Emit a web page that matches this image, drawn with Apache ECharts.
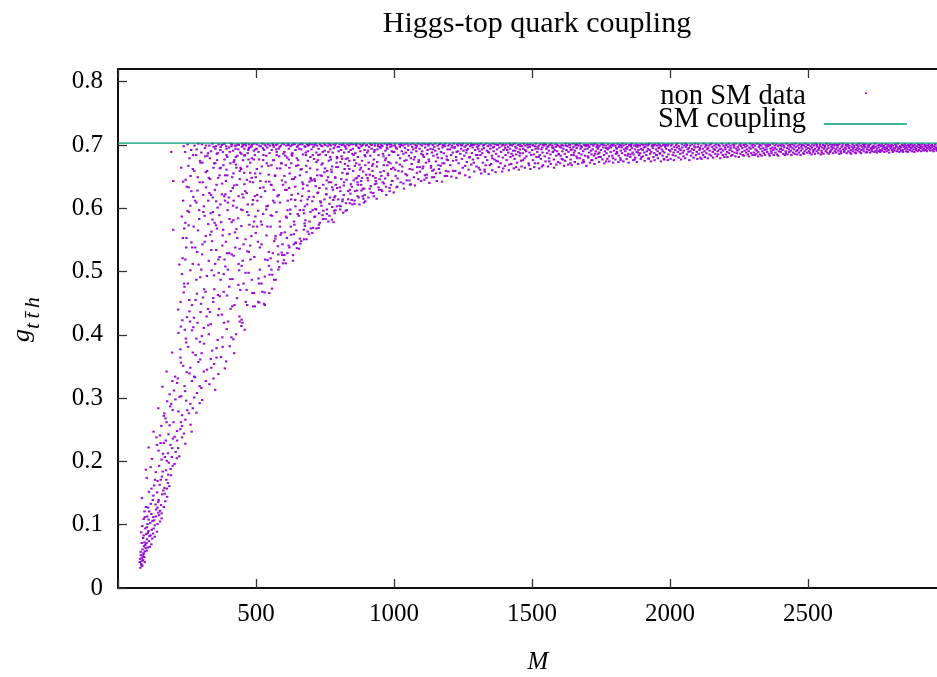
<!DOCTYPE html>
<html>
<head>
<meta charset="utf-8">
<title>Higgs-top quark coupling</title>
<script src="https://cdn.jsdelivr.net/npm/echarts@6/dist/echarts.min.js"></script>
<style>
  html, body { margin: 0; padding: 0; background: #fff; }
  #chart { width: 937px; height: 677px; }
</style>
</head>
<body>
<div id="chart"></div>
<script>
// Axis ranges and tick labels
const massRange = [0, 3000];
const massTicks = [500, 1000, 1500, 2000, 2500];
const couplingRange = [0, 0.82];
const couplingTicks = [0, 0.1, 0.2, 0.3, 0.4, 0.5, 0.6, 0.7, 0.8];

// Standard Model value of the Higgs-top coupling
const smCoupling = 0.703;

// Scan points outside the SM, stored as flat lists of (M, g_tth) pairs.
// Low-mass tail, g below about 0.42
const lowTailMG = [
  81,.032, 84,.038, 79,.041, 88,.035, 86,.047, 83,.052, 91,.044, 95,.049, 82,.057, 89,.061, 93,.055, 87,.043, 97,.058, 85,.036, 100,.063, 90,.050, 104,.059, 80,.046, 94,.066, 108,.064,
  86,.071, 99,.068, 112,.074, 91,.079, 118,.083, 105,.077, 84,.088, 127,.086, 96,.072, 133,.081, 110,.090, 121,.069, 102,.085, 141,.089, 93,.083, 115,.065, 124,.078, 108,.087,
  88,.098, 129,.094, 143,.101, 111,.108, 97,.112, 152,.105, 121,.117, 137,.113, 104,.096, 158,.110, 117,.103, 146,.119, 93,.109, 133,.099, 125,.106, 149,.115,
  87,.142, 138,.124, 156,.131, 147,.139, 166,.128, 128,.146, 171,.137, 119,.133, 160,.148, 152,.122, 178,.144, 143,.127,
  121,.157, 151,.163, 164,.154, 175,.171, 159,.176, 186,.161, 143,.169, 192,.178, 168,.158, 181,.166, 104,.174,
  101,.187, 149,.193, 162,.184, 177,.201, 191,.188, 205,.196, 170,.207, 184,.198, 213,.205, 158,.203,
  111,.222, 147,.217, 166,.229, 181,.213, 199,.236, 218,.221, 232,.238, 190,.226, 173,.233, 209,.215,
  129,.247, 157,.256, 183,.243, 201,.262, 226,.251, 244,.266, 263,.258, 214,.248, 172,.268, 239,.244,
  146,.284, 168,.276, 193,.291, 219,.279, 247,.296, 271,.284, 296,.292, 232,.273, 208,.298, 284,.277,
  161,.318, 187,.306, 214,.324, 243,.311, 268,.327, 302,.316, 331,.322, 229,.303, 286,.308, 352,.313,
  176,.342, 207,.334, 236,.351, 259,.339, 291,.357, 322,.345, 364,.338, 279,.333, 348,.354, 387,.347,
  196,.372, 226,.364, 254,.381, 281,.368, 312,.386, 341,.375, 373,.365, 405,.382, 298,.361, 421,.371,
  219,.403, 246,.394, 273,.412, 304,.398, 336,.417, 361,.392, 394,.409, 428,.401, 447,.414, 288,.419, 378,.396, 459,.408,
  97,.041, 92,.053, 103,.071, 114,.082, 99,.094, 107,.101, 131,.107, 122,.092, 113,.121, 136,.132, 126,.139, 109,.127, 142,.151, 131,.162, 155,.171, 137,.183, 118,.191, 174,.186, 163,.212, 141,.226,
  196,.221, 152,.241, 187,.257, 205,.239, 228,.262, 166,.272, 198,.281, 257,.276, 178,.295, 223,.302, 262,.291, 305,.297, 241,.319, 197,.327, 276,.334, 318,.327, 346,.331, 228,.356, 262,.348, 303,.371,
  336,.362, 392,.358, 247,.388, 284,.394, 329,.401, 357,.379, 418,.393, 268,.407, 311,.411, 384,.419, 441,.421, 233,.423,
  128,.112, 101,.128, 146,.136, 112,.152, 169,.149, 134,.171, 182,.179, 123,.204, 195,.207, 154,.229, 214,.233, 139,.238, 232,.256, 176,.262, 251,.281, 189,.287, 276,.301, 203,.312, 296,.319, 217,.331,
  311,.342, 249,.341, 338,.348, 226,.377, 357,.364, 271,.372, 379,.381, 297,.389, 411,.396, 242,.408, 327,.415, 451,.419, 106,.113, 96,.121, 158,.118, 177,.157, 198,.193, 222,.208, 244,.228, 267,.247
];

// M below 500, g above about 0.42
const lightMG = [
  193,.689, 200,.643, 200,.566, 222,.511, 218,.440, 228,.413,
  227,.452, 231,.587, 229,.664, 234,.521, 238,.698, 236,.612, 241,.476, 245,.645, 243,.689, 248,.553, 252,.701, 250,.428, 256,.633, 259,.679, 262,.502, 257,.594, 265,.692, 268,.447, 271,.662, 274,.571, 277,.699, 273,.618, 280,.538, 283,.684, 286,.465, 289,.649, 291,.702, 294,.597, 297,.675, 292,.511, 299,.436, 285,.693, 266,.627, 240,.568, 253,.481,
  302,.688, 306,.543, 304,.701, 309,.621, 312,.472, 315,.695, 318,.657, 314,.588, 321,.429, 324,.683, 327,.612, 331,.699, 329,.517, 334,.646, 337,.690, 339,.563, 342,.702, 345,.458, 348,.671, 351,.629, 353,.694, 356,.534, 358,.686, 361,.601, 364,.701, 366,.441, 369,.663, 372,.697, 374,.578, 377,.639,
  380,.689, 383,.496, 385,.702, 388,.652, 391,.547, 393,.694, 396,.681, 398,.609, 319,.699, 336,.592, 347,.697, 359,.676, 368,.523, 376,.700, 382,.668, 389,.622, 395,.462, 307,.641, 326,.687, 343,.617, 355,.698, 363,.648, 371,.692, 379,.557, 386,.677, 392,.698, 399,.421, 333,.679, 350,.577, 384,.702,
  402,.696, 404,.583, 407,.671, 409,.702, 412,.527, 414,.649, 417,.691, 419,.612, 422,.447, 424,.699, 427,.681, 429,.567, 431,.637, 434,.701, 436,.693, 439,.502, 441,.659, 443,.688, 446,.598, 448,.424, 451,.702, 453,.676, 455,.543, 458,.694, 461,.627, 463,.699, 466,.471, 468,.666, 470,.687, 473,.589, 475,.701, 478,.642, 480,.519, 483,.697, 485,.679, 487,.606, 490,.445, 492,.691,
  494,.702, 497,.655, 499,.561, 405,.689, 411,.698, 416,.632, 421,.676, 426,.694, 432,.553, 438,.700, 444,.664, 449,.697, 454,.617, 459,.684, 464,.702, 469,.532, 474,.695, 479,.672, 484,.699, 489,.641, 493,.579, 498,.693, 403,.476, 418,.655, 428,.699, 437,.619, 447,.686, 457,.701, 467,.645, 476,.696, 486,.701, 496,.684, 413,.701, 433,.683, 452,.699, 472,.692
];

// 230 <= M < 1200, body of the band below g = 0.69
const bandBodyMG = [
  247,.538, 262,.604, 239,.481, 281,.455, 255,.667, 294,.583, 271,.512, 236,.642, 288,.628, 259,.437, 276,.659, 244,.577, 298,.491, 266,.546, 284,.609,
  317,.468, 356,.611, 338,.534, 372,.487, 309,.594, 391,.643, 345,.452, 323,.659, 381,.566, 364,.519, 302,.503, 397,.597, 331,.624, 352,.671, 376,.432, 314,.547, 389,.508, 342,.582, 368,.652, 326,.441,
  359,.568, 395,.529, 306,.672, 348,.494, 385,.619, 334,.558, 371,.606, 319,.633, 362,.463, 393,.661,
  437,.512, 412,.578, 468,.447, 489,.613, 421,.636, 455,.481, 403,.529, 476,.574, 446,.662, 431,.458, 494,.523, 417,.604, 462,.551, 484,.648, 408,.441, 451,.597, 473,.498, 427,.669, 498,.587, 441,.536,
  415,.488, 466,.624, 487,.466, 435,.584, 457,.656, 479,.541, 402,.617, 448,.509, 492,.677, 424,.562, 470,.606, 443,.471, 496,.445, 458,.638, 419,.525,
  523,.468, 547,.531, 508,.596, 571,.487, 589,.558, 536,.642, 514,.503, 562,.612, 595,.526, 541,.571, 503,.662, 577,.663, 529,.449, 553,.589, 584,.507, 518,.618, 566,.548, 598,.637, 533,.519, 558,.473,
  507,.547, 574,.594, 545,.667, 592,.671, 521,.574, 561,.529, 511,.481, 582,.621, 538,.603, 569,.652, 527,.633, 596,.543, 549,.495, 515,.655, 586,.579, 556,.637, 532,.492, 579,.516, 504,.621, 564,.676,
  618,.541, 643,.603, 677,.572, 606,.629, 659,.552, 692,.618, 634,.517, 621,.664, 668,.641, 687,.563, 611,.585, 648,.679, 697,.594, 627,.558, 663,.612, 683,.657, 603,.526, 639,.574, 672,.597, 656,.536,
  615,.612, 694,.642, 631,.646, 679,.581, 646,.565, 608,.668, 688,.675, 624,.598, 653,.623, 699,.568, 637,.543, 665,.662, 612,.553, 685,.606, 642,.649, 674,.551, 629,.621, 696,.663, 651,.591, 619,.677,
  712,.586, 748,.614, 731,.577, 764,.641, 793,.603, 722,.652, 757,.598, 779,.629, 704,.561, 741,.671, 785,.592, 768,.617, 716,.635, 752,.583, 797,.665, 735,.609, 773,.661, 727,.569, 761,.649, 709,.618,
  789,.637, 744,.596, 781,.578, 719,.673, 755,.631, 738,.651, 776,.602, 702,.644, 766,.588, 794,.679, 729,.592, 750,.663, 787,.619, 715,.599, 771,.677,
  813,.611, 847,.634, 829,.597, 866,.648, 894,.621, 821,.662, 857,.607, 881,.643, 806,.627, 838,.675, 872,.617, 899,.653, 816,.593, 852,.659, 887,.631, 834,.614, 863,.671, 891,.609, 809,.646, 842,.623,
  877,.661, 826,.678, 859,.627, 896,.668, 818,.636, 849,.606, 884,.648, 832,.655, 869,.637, 803,.604,
  912,.631, 948,.646, 927,.619, 963,.659, 989,.637, 921,.667, 954,.629, 978,.652, 906,.644, 939,.673, 971,.634, 997,.664, 916,.625, 951,.657, 984,.627, 933,.648, 968,.676, 994,.643, 909,.662, 944,.633,
  976,.668, 924,.651, 959,.641, 987,.671, 931,.638,
  1013,.647, 1067,.661, 1034,.639, 1089,.673, 1152,.655, 1021,.669, 1118,.648, 1176,.671, 1047,.652, 1098,.643, 1163,.662, 1009,.633, 1072,.677, 1139,.659, 1184,.651, 1029,.658, 1106,.666, 1191,.677, 1056,.644, 1127,.674,
  1083,.656, 1145,.649, 1038,.675, 1112,.652, 1169,.667, 1004,.661, 1061,.638, 1134,.664, 1197,.658, 1093,.665,
  238,.467, 244,.519, 252,.596, 258,.455, 263,.651, 269,.538, 275,.427, 279,.612, 284,.487, 290,.565, 296,.641, 301,.449, 305,.527, 311,.603, 316,.682, 322,.493, 327,.575, 333,.436, 337,.621, 341,.548,
  346,.664, 349,.472, 235,.553, 249,.634, 261,.421, 272,.684, 287,.531, 299,.672, 308,.459, 318,.556, 329,.648, 339,.502, 344,.594, 232,.496, 256,.573,
  352,.512, 357,.637, 363,.431, 367,.589, 372,.664, 378,.541, 383,.468, 388,.612, 393,.684, 398,.503, 404,.559, 409,.627, 414,.445, 419,.673, 425,.538, 430,.601, 436,.479, 441,.646, 447,.572, 452,.517,
  458,.683, 463,.452, 468,.594, 474,.531, 479,.656, 485,.487, 490,.571, 496,.619, 355,.573, 361,.687, 369,.461, 376,.622, 386,.519, 396,.652, 407,.488, 418,.581, 429,.664, 440,.429, 451,.622, 462,.498,
  473,.677, 483,.556, 493,.466, 499,.649, 365,.498,
  504,.571, 509,.489, 515,.632, 520,.543, 526,.676, 531,.467, 537,.598, 542,.518, 548,.642, 553,.571, 559,.495, 564,.629, 570,.552, 575,.684, 581,.527, 587,.609, 592,.561, 598,.513, 603,.651, 609,.587,
  614,.529, 620,.632, 626,.571, 631,.683, 637,.559, 642,.613, 648,.537, 653,.668, 659,.597, 664,.548, 670,.631, 676,.576, 681,.684, 687,.614, 692,.559, 698,.648, 512,.451, 556,.503, 601,.518, 644,.546,
  705,.597, 712,.646, 719,.568, 726,.684, 733,.611, 741,.589, 748,.657, 755,.622, 762,.579, 769,.681, 776,.633, 783,.596, 791,.665, 798,.614, 805,.598, 812,.678, 819,.641, 826,.608, 833,.667, 840,.629,
  847,.613, 854,.684, 861,.647, 868,.619, 875,.669, 882,.628, 889,.615, 896,.682, 723,.624, 787,.648
];

// 500 <= M < 1000
const midMG = [
  502,.694, 505,.612, 503,.701, 508,.452, 511,.677, 509,.689, 514,.538, 517,.698, 516,.643, 520,.481, 523,.702, 521,.666, 526,.591, 529,.692, 527,.684, 532,.447, 535,.699, 533,.627, 538,.557, 541,.696, 539,.671, 544,.701, 547,.509, 546,.653, 549,.687, 512,.699, 518,.579, 525,.695, 531,.701, 537,.683, 543,.604, 548,.466,
  551,.699, 554,.637, 553,.521, 557,.692, 560,.702, 558,.588, 563,.676, 566,.487, 564,.697, 569,.651, 572,.700, 571,.556, 575,.689, 578,.619, 577,.701, 581,.503, 584,.682, 582,.694, 587,.571, 590,.699, 588,.663, 593,.530, 596,.702, 594,.644, 599,.686, 556,.668, 562,.700, 567,.609, 573,.693, 579,.540, 586,.697, 592,.671,
  601,.701, 604,.562, 603,.689, 607,.641, 610,.699, 608,.513, 613,.680, 616,.702, 614,.597, 619,.694, 622,.655, 621,.538, 625,.698, 628,.671, 627,.614, 631,.700, 634,.526, 632,.687, 637,.646, 640,.701, 638,.579, 643,.692, 646,.667, 644,.545, 649,.697, 606,.683, 611,.629, 618,.700, 624,.591, 629,.685, 636,.702, 642,.634,
  652,.699, 655,.588, 653,.676, 658,.701, 661,.544, 659,.652, 664,.693, 667,.619, 665,.702, 670,.685, 673,.566, 671,.638, 676,.698, 679,.697, 677,.603, 682,.667, 685,.701, 683,.551, 688,.690, 691,.627, 689,.699, 694,.579, 697,.681, 695,.702, 699,.646, 656,.694, 662,.661, 668,.701, 674,.592, 680,.688, 686,.636, 692,.700,
  701,.693, 704,.611, 703,.701, 707,.569, 710,.678, 708,.697, 713,.643, 716,.702, 714,.587, 719,.688, 722,.661, 721,.699, 725,.625, 728,.574, 727,.694, 731,.701, 734,.652, 732,.685, 737,.604, 740,.698, 738,.669, 743,.583, 746,.702, 744,.637, 749,.691, 706,.684, 712,.700, 718,.598, 724,.676, 730,.632, 736,.699, 742,.689,
  751,.700, 754,.622, 753,.684, 757,.591, 760,.698, 758,.659, 763,.702, 766,.607, 764,.675, 769,.693, 772,.641, 771,.699, 775,.582, 778,.688, 776,.666, 781,.701, 784,.617, 782,.695, 787,.649, 790,.702, 788,.597, 793,.681, 796,.697, 794,.632, 799,.690, 756,.644, 762,.689, 768,.701, 774,.657, 780,.613, 786,.699, 792,.672,
  801,.697, 804,.633, 803,.701, 807,.603, 810,.682, 808,.692, 813,.656, 816,.702, 814,.614, 819,.688, 822,.670, 821,.699, 825,.596, 828,.645, 827,.694, 831,.701, 834,.627, 832,.679, 837,.699, 840,.608, 838,.662, 843,.692, 846,.701, 844,.638, 849,.686, 806,.673, 812,.700, 818,.621, 824,.697, 830,.654, 836,.689, 842,.702,
  851,.694, 854,.644, 853,.701, 857,.612, 860,.687, 858,.667, 863,.699, 866,.628, 864,.702, 869,.681, 872,.651, 871,.696, 875,.606, 878,.690, 876,.701, 881,.637, 884,.675, 882,.698, 887,.619, 890,.702, 888,.658, 893,.692, 896,.611, 894,.684, 899,.699, 856,.676, 862,.701, 868,.641, 874,.695, 880,.664, 886,.700, 892,.631,
  901,.700, 904,.648, 903,.688, 907,.617, 910,.697, 908,.672, 913,.702, 916,.635, 914,.683, 919,.694, 922,.659, 921,.701, 925,.624, 928,.689, 927,.677, 931,.699, 934,.643, 932,.702, 937,.615, 940,.693, 938,.666, 943,.701, 946,.629, 944,.684, 949,.697, 906,.691, 912,.653, 918,.700, 924,.670, 930,.692, 936,.639, 942,.698,
  951,.695, 954,.651, 953,.701, 957,.627, 960,.686, 958,.698, 963,.668, 966,.702, 964,.639, 969,.691, 972,.621, 971,.679, 975,.700, 978,.655, 976,.694, 981,.702, 984,.632, 982,.684, 987,.697, 990,.662, 988,.701, 993,.643, 996,.689, 994,.699, 999,.625, 956,.699, 962,.682, 968,.647, 974,.696, 980,.673, 986,.701, 992,.690
];

// 1000 <= M < 2000
const heavyMG = [
  1001,.689, 1003,.699, 1006,.651, 1004,.702, 1009,.672, 1012,.634, 1010,.694, 1015,.684, 1018,.701, 1016,.659, 1021,.697, 1024,.641, 1022,.679, 1027,.702, 1030,.666, 1028,.690, 1033,.699, 1036,.631, 1034,.686, 1039,.701, 1042,.654, 1040,.695, 1045,.676, 1048,.702, 1046,.644, 1051,.692, 1054,.683, 1052,.699, 1057,.662, 1060,.701, 1058,.637, 1063,.688, 1066,.697, 1064,.670, 1069,.702, 1072,.649, 1070,.693, 1075,.681, 1078,.700, 1076,.636, 1081,.690, 1084,.665, 1082,.698, 1087,.702, 1090,.676, 1088,.646, 1093,.694, 1096,.701, 1094,.658, 1099,.686, 1007,.696, 1025,.700, 1043,.688, 1061,.679, 1079,.695,
  1101,.699, 1104,.663, 1102,.690, 1107,.702, 1110,.645, 1108,.681, 1113,.696, 1116,.672, 1114,.701, 1119,.653, 1122,.692, 1120,.686, 1125,.699, 1128,.640, 1126,.677, 1131,.702, 1134,.667, 1132,.694, 1137,.688, 1140,.700, 1138,.649, 1143,.683, 1146,.697, 1144,.661, 1149,.702, 1152,.674, 1150,.691, 1155,.643, 1158,.699, 1156,.685, 1161,.668, 1164,.701, 1162,.694, 1167,.656, 1170,.689, 1168,.702, 1173,.679, 1176,.696, 1174,.642, 1179,.700, 1182,.671, 1180,.687, 1185,.698, 1188,.659, 1186,.702, 1191,.682, 1194,.693, 1192,.651, 1197,.699, 1105,.684, 1123,.701, 1141,.693, 1159,.680, 1177,.699, 1195,.676,
  1201,.701, 1204,.668, 1202,.693, 1207,.684, 1210,.699, 1208,.650, 1213,.688, 1216,.702, 1214,.675, 1219,.695, 1222,.659, 1220,.697, 1225,.681, 1228,.701, 1226,.648, 1231,.690, 1234,.671, 1232,.699, 1237,.702, 1240,.686, 1238,.656, 1243,.694, 1246,.678, 1244,.700, 1249,.664, 1252,.691, 1250,.702, 1255,.683, 1258,.652, 1256,.697, 1261,.699, 1264,.673, 1262,.688, 1267,.701, 1270,.661, 1268,.694, 1273,.680, 1276,.698, 1274,.649, 1279,.702, 1282,.687, 1280,.669, 1285,.696, 1288,.700, 1286,.677, 1291,.658, 1294,.692, 1292,.701, 1297,.684, 1209,.696, 1227,.689, 1245,.699, 1263,.692, 1281,.700, 1299,.666,
  1301,.697, 1304,.679, 1302,.701, 1307,.664, 1310,.690, 1308,.699, 1313,.684, 1316,.655, 1314,.702, 1319,.693, 1322,.672, 1320,.687, 1325,.700, 1328,.661, 1326,.695, 1331,.681, 1334,.702, 1332,.668, 1337,.691, 1340,.698, 1338,.676, 1343,.654, 1346,.701, 1344,.688, 1349,.694, 1352,.670, 1350,.699, 1355,.683, 1358,.702, 1356,.660, 1361,.690, 1364,.677, 1362,.697, 1367,.701, 1370,.686, 1368,.657, 1373,.693, 1376,.674, 1374,.700, 1379,.682, 1382,.696, 1380,.665, 1385,.702, 1388,.689, 1386,.671, 1391,.699, 1394,.680, 1392,.658, 1397,.692, 1305,.694, 1323,.699, 1341,.689, 1359,.696, 1377,.700, 1395,.701,
  1401,.699, 1404,.684, 1402,.667, 1407,.701, 1410,.692, 1408,.676, 1413,.697, 1416,.660, 1414,.688, 1419,.702, 1422,.681, 1420,.694, 1425,.670, 1428,.699, 1426,.686, 1431,.701, 1434,.663, 1432,.691, 1437,.678, 1440,.697, 1438,.702, 1443,.685, 1446,.672, 1444,.695, 1449,.700, 1452,.661, 1450,.689, 1455,.683, 1458,.701, 1456,.693, 1461,.675, 1464,.698, 1462,.666, 1467,.687, 1470,.702, 1468,.694, 1473,.679, 1476,.699, 1474,.664, 1479,.690, 1482,.701, 1480,.682, 1485,.696, 1488,.671, 1486,.700, 1491,.688, 1494,.662, 1492,.697, 1497,.684, 1403,.695, 1421,.700, 1439,.691, 1457,.698, 1475,.692, 1493,.701,
  1501,.692, 1504,.676, 1502,.700, 1507,.685, 1510,.698, 1508,.665, 1513,.694, 1516,.681, 1514,.702, 1519,.689, 1522,.671, 1520,.697, 1525,.699, 1528,.684, 1526,.663, 1531,.701, 1534,.693, 1532,.678, 1537,.696, 1540,.668, 1538,.688, 1543,.702, 1546,.682, 1544,.699, 1549,.674, 1552,.694, 1550,.701, 1555,.687, 1558,.666, 1556,.697, 1561,.691, 1564,.700, 1562,.679, 1567,.685, 1570,.702, 1568,.670, 1573,.696, 1576,.689, 1574,.699, 1579,.677, 1582,.692, 1580,.664, 1585,.701, 1588,.683, 1586,.697, 1591,.690, 1594,.673, 1592,.700, 1597,.686, 1505,.699, 1523,.694, 1541,.700, 1559,.698, 1577,.695, 1595,.699,
  1601,.697, 1604,.683, 1602,.671, 1607,.700, 1610,.690, 1608,.678, 1613,.699, 1616,.667, 1614,.694, 1619,.686, 1622,.702, 1620,.675, 1625,.692, 1628,.698, 1626,.681, 1631,.669, 1634,.701, 1632,.689, 1637,.696, 1640,.677, 1638,.700, 1643,.684, 1646,.693, 1644,.668, 1649,.702, 1652,.688, 1650,.697, 1655,.673, 1658,.699, 1656,.691, 1661,.682, 1664,.701, 1662,.695, 1667,.670, 1670,.687, 1668,.699, 1673,.679, 1676,.694, 1674,.702, 1679,.685, 1682,.672, 1680,.697, 1685,.690, 1688,.700, 1686,.676, 1691,.693, 1694,.698, 1692,.683, 1697,.667, 1605,.696, 1623,.699, 1641,.692, 1659,.701, 1677,.698, 1695,.700,
  1701,.694, 1704,.680, 1702,.700, 1707,.688, 1710,.672, 1708,.697, 1713,.701, 1716,.685, 1714,.691, 1719,.676, 1722,.699, 1720,.693, 1725,.683, 1728,.702, 1726,.670, 1731,.690, 1734,.697, 1732,.679, 1737,.700, 1740,.686, 1738,.694, 1743,.673, 1746,.699, 1744,.688, 1749,.681, 1752,.701, 1750,.692, 1755,.677, 1758,.696, 1756,.702, 1761,.684, 1764,.690, 1762,.671, 1767,.699, 1770,.687, 1768,.695, 1773,.678, 1776,.701, 1774,.693, 1779,.682, 1782,.698, 1780,.674, 1785,.689, 1788,.700, 1786,.696, 1791,.683, 1794,.672, 1792,.699, 1797,.691, 1705,.698, 1723,.701, 1741,.697, 1759,.700, 1777,.695, 1795,.701,
  1801,.699, 1804,.686, 1802,.677, 1807,.694, 1810,.701, 1808,.689, 1813,.673, 1816,.697, 1814,.683, 1819,.700, 1822,.691, 1820,.679, 1825,.696, 1828,.702, 1826,.687, 1831,.674, 1834,.693, 1832,.699, 1837,.684, 1840,.701, 1838,.690, 1843,.678, 1846,.697, 1844,.694, 1849,.686, 1852,.700, 1850,.672, 1855,.692, 1858,.698, 1856,.681, 1861,.702, 1864,.688, 1862,.695, 1867,.676, 1870,.699, 1868,.685, 1873,.693, 1876,.701, 1874,.680, 1879,.689, 1882,.697, 1880,.673, 1885,.700, 1888,.684, 1886,.692, 1891,.699, 1894,.678, 1892,.687, 1897,.701, 1805,.696, 1823,.699, 1841,.695, 1859,.700, 1877,.698, 1895,.694,
  1901,.692, 1904,.700, 1902,.682, 1907,.688, 1910,.697, 1908,.675, 1913,.701, 1916,.690, 1914,.684, 1919,.699, 1922,.678, 1920,.694, 1925,.702, 1928,.686, 1926,.692, 1931,.674, 1934,.698, 1932,.689, 1937,.700, 1940,.681, 1938,.695, 1943,.687, 1946,.701, 1944,.676, 1949,.693, 1952,.699, 1950,.684, 1955,.690, 1958,.702, 1956,.679, 1961,.696, 1964,.687, 1962,.700, 1967,.674, 1970,.693, 1968,.698, 1973,.683, 1976,.701, 1974,.690, 1979,.677, 1982,.697, 1980,.688, 1985,.700, 1988,.681, 1986,.694, 1991,.699, 1994,.685, 1992,.676, 1997,.692, 1905,.696, 1923,.701, 1941,.699, 1959,.695, 1977,.700, 1995,.701,
  1214,.659, 1258,.667, 1236,.655, 1289,.672, 1312,.661, 1347,.668, 1329,.658, 1371,.675, 1396,.663, 1418,.669, 1442,.665, 1467,.676, 1489,.668, 1511,.671, 1536,.666, 1563,.674, 1588,.669, 1612,.677, 1639,.671, 1664,.679,
  1688,.673, 1715,.676, 1742,.681, 1769,.674, 1793,.679, 1821,.676, 1846,.683, 1872,.677, 1897,.681, 1923,.679, 1952,.684, 1978,.678, 1226,.676, 1274,.681, 1356,.679, 1431,.683, 1524,.681, 1597,.685, 1651,.684, 1729,.686,
  1808,.687, 1884,.688, 1963,.686, 1302,.684, 1457,.687, 1576,.689, 1702,.682, 1857,.685
];

// 2000 <= M <= 3000
const veryHeavyMG = [
  2001,.690, 2004,.699, 2002,.678, 2007,.694, 2010,.684, 2008,.701, 2013,.688, 2016,.697, 2014,.676, 2019,.692, 2022,.700, 2020,.683, 2025,.696, 2028,.689, 2026,.702, 2031,.680, 2034,.694, 2032,.698, 2037,.686, 2040,.677, 2038,.692, 2043,.701, 2046,.688, 2044,.696, 2049,.682, 2052,.699, 2050,.691, 2055,.679, 2058,.697, 2056,.702, 2061,.685, 2064,.693, 2062,.700, 2067,.689, 2070,.676, 2068,.695, 2073,.699, 2076,.683, 2074,.690, 2079,.701, 2082,.687, 2080,.694, 2085,.680, 2088,.698, 2086,.692, 2091,.702, 2094,.684, 2092,.696, 2097,.689, 2099,.678,
  2101,.697, 2104,.686, 2102,.701, 2107,.692, 2110,.680, 2108,.695, 2113,.699, 2116,.688, 2114,.678, 2119,.694, 2122,.702, 2120,.684, 2125,.690, 2128,.697, 2126,.681, 2131,.700, 2134,.693, 2132,.687, 2137,.679, 2140,.699, 2138,.695, 2143,.685, 2146,.701, 2144,.691, 2149,.683, 2152,.697, 2150,.702, 2155,.689, 2158,.694, 2156,.680, 2161,.699, 2164,.686, 2162,.692, 2167,.701, 2170,.682, 2168,.696, 2173,.690, 2176,.700, 2174,.685, 2179,.693, 2182,.679, 2180,.698, 2185,.688, 2188,.702, 2186,.694, 2191,.684, 2194,.699, 2192,.691, 2197,.681, 2199,.696,
  2201,.693, 2204,.700, 2202,.685, 2207,.689, 2210,.697, 2208,.681, 2213,.702, 2216,.692, 2214,.687, 2219,.699, 2222,.683, 2220,.695, 2225,.690, 2228,.701, 2226,.684, 2231,.696, 2234,.688, 2232,.699, 2237,.682, 2240,.694, 2238,.702, 2243,.687, 2246,.697, 2244,.691, 2249,.681, 2252,.700, 2250,.693, 2255,.686, 2258,.698, 2256,.702, 2261,.689, 2264,.684, 2262,.695, 2267,.700, 2270,.691, 2268,.683, 2273,.697, 2276,.688, 2274,.701, 2279,.693, 2282,.685, 2280,.699, 2285,.690, 2288,.696, 2286,.682, 2291,.702, 2294,.687, 2292,.694, 2297,.699, 2299,.684,
  2301,.696, 2304,.688, 2302,.701, 2307,.684, 2310,.693, 2308,.699, 2313,.686, 2316,.702, 2314,.691, 2319,.682, 2322,.697, 2320,.689, 2325,.700, 2328,.694, 2326,.685, 2331,.699, 2334,.690, 2332,.683, 2337,.702, 2340,.687, 2338,.695, 2343,.692, 2346,.700, 2344,.684, 2349,.697, 2352,.689, 2350,.693, 2355,.701, 2358,.686, 2356,.698, 2361,.683, 2364,.694, 2362,.700, 2367,.690, 2370,.696, 2368,.687, 2373,.702, 2376,.684, 2374,.692, 2379,.699, 2382,.688, 2380,.695, 2385,.701, 2388,.685, 2386,.693, 2391,.698, 2394,.690, 2392,.683, 2397,.700, 2399,.694,
  2401,.689, 2404,.698, 2402,.694, 2407,.701, 2410,.686, 2408,.692, 2413,.699, 2416,.684, 2414,.696, 2419,.690, 2422,.702, 2420,.687, 2425,.695, 2428,.699, 2426,.685, 2431,.693, 2434,.700, 2432,.689, 2437,.697, 2440,.684, 2438,.691, 2443,.701, 2446,.688, 2444,.695, 2449,.699, 2452,.686, 2450,.693, 2455,.702, 2458,.690, 2456,.697, 2461,.685, 2464,.699, 2462,.692, 2467,.688, 2470,.701, 2468,.695, 2473,.684, 2476,.697, 2474,.691, 2479,.700, 2482,.687, 2480,.694, 2485,.699, 2488,.690, 2486,.686, 2491,.702, 2494,.693, 2492,.697, 2497,.688, 2499,.700,
  2501,.695, 2504,.690, 2502,.700, 2507,.687, 2510,.698, 2508,.693, 2513,.685, 2516,.701, 2514,.696, 2519,.689, 2522,.699, 2520,.692, 2525,.686, 2528,.702, 2526,.694, 2531,.690, 2534,.697, 2532,.700, 2537,.687, 2540,.695, 2538,.692, 2543,.701, 2546,.685, 2544,.698, 2549,.691, 2552,.696, 2550,.688, 2555,.700, 2558,.694, 2556,.686, 2561,.699, 2564,.690, 2562,.697, 2567,.702, 2570,.688, 2568,.693, 2573,.699, 2576,.686, 2574,.695, 2579,.701, 2582,.691, 2580,.689, 2585,.697, 2588,.700, 2586,.693, 2591,.687, 2594,.699, 2592,.695, 2597,.690, 2599,.701,
  2601,.693, 2604,.700, 2602,.688, 2607,.696, 2610,.691, 2608,.699, 2613,.686, 2616,.694, 2614,.701, 2619,.690, 2622,.697, 2620,.687, 2625,.699, 2628,.693, 2626,.702, 2631,.689, 2634,.696, 2632,.691, 2637,.700, 2640,.687, 2638,.694, 2643,.698, 2646,.690, 2644,.701, 2649,.695, 2652,.688, 2650,.699, 2655,.692, 2658,.697, 2656,.686, 2661,.701, 2664,.694, 2662,.690, 2667,.699, 2670,.688, 2668,.696, 2673,.692, 2676,.700, 2674,.687, 2679,.695, 2682,.698, 2680,.691, 2685,.702, 2688,.689, 2686,.694, 2691,.699, 2694,.692, 2692,.687, 2697,.697, 2699,.701,
  2701,.694, 2704,.699, 2702,.690, 2707,.697, 2710,.688, 2708,.701, 2713,.693, 2716,.696, 2714,.689, 2719,.700, 2722,.692, 2720,.698, 2725,.688, 2728,.695, 2726,.701, 2731,.690, 2734,.697, 2732,.693, 2737,.699, 2740,.689, 2738,.695, 2743,.702, 2746,.691, 2744,.697, 2749,.688, 2752,.699, 2750,.694, 2755,.690, 2758,.700, 2756,.696, 2761,.692, 2764,.698, 2762,.689, 2767,.701, 2770,.694, 2768,.691, 2773,.697, 2776,.689, 2774,.699, 2779,.693, 2782,.701, 2780,.696, 2785,.690, 2788,.697, 2786,.694, 2791,.700, 2794,.688, 2792,.692, 2797,.698, 2799,.695,
  2801,.697, 2804,.692, 2802,.700, 2807,.689, 2810,.695, 2808,.699, 2813,.691, 2816,.701, 2814,.694, 2819,.697, 2822,.690, 2820,.699, 2825,.693, 2828,.696, 2826,.702, 2831,.689, 2834,.698, 2832,.694, 2837,.691, 2840,.700, 2838,.696, 2843,.692, 2846,.699, 2844,.689, 2849,.697, 2852,.694, 2850,.701, 2855,.690, 2858,.696, 2856,.699, 2861,.693, 2864,.700, 2862,.689, 2867,.697, 2870,.692, 2868,.699, 2873,.695, 2876,.690, 2874,.701, 2879,.697, 2882,.693, 2880,.699, 2885,.689, 2888,.696, 2886,.700, 2891,.692, 2894,.698, 2892,.694, 2897,.690, 2899,.701,
  2901,.696, 2904,.700, 2902,.692, 2907,.698, 2910,.690, 2908,.695, 2913,.701, 2916,.693, 2914,.697, 2919,.691, 2922,.699, 2920,.694, 2925,.700, 2928,.692, 2926,.697, 2931,.690, 2934,.699, 2932,.695, 2937,.701, 2940,.693, 2938,.697, 2943,.691, 2946,.699, 2944,.695, 2949,.700, 2952,.692, 2950,.697, 2955,.690, 2958,.698, 2956,.694, 2961,.701, 2964,.693, 2962,.696, 2967,.691, 2970,.699, 2968,.695, 2973,.700, 2976,.692, 2974,.697, 2979,.694, 2982,.701, 2980,.690, 2985,.697, 2988,.693, 2986,.699, 2991,.695, 2994,.700, 2992,.691, 2997,.697, 2999,.694
];

const seriesNames = ['non SM data', 'SM coupling'];
const seriesColors = ['#9400d3', '#009e73'];

const SERIF = '"Liberation Serif", "DejaVu Serif", serif';
const INK = '#000';

// turn a flat (M, g, M, g, ...) list into [M, g] points
function toPoints(flat) {
  const out = [];
  for (let i = 0; i + 1 < flat.length; i += 2) out.push([flat[i], flat[i + 1]]);
  return out;
}

const nonSmPoints = [].concat(
  toPoints(lowTailMG), toPoints(lightMG), toPoints(bandBodyMG), toPoints(midMG),
  toPoints(heavyMG), toPoints(veryHeavyMG)
);

const chart = echarts.init(document.getElementById('chart'), null, { renderer: 'canvas' });

function frameLine() {
  return { show: true, onZero: false, lineStyle: { color: INK, width: 1.5 } };
}
function innerTick() {
  return { show: true, inside: true, length: 9, lineStyle: { color: '#333', width: 1.3 } };
}

function massAxis(position, labelled) {
  return {
    type: 'value', position: position,
    min: massRange[0], max: massRange[1], interval: 500,
    axisLine: frameLine(), axisTick: innerTick(), splitLine: { show: false },
    axisLabel: {
      show: labelled, margin: 14, color: INK, fontFamily: SERIF, fontSize: 25,
      formatter: v => massTicks.indexOf(v) >= 0 ? String(v) : ''
    }
  };
}

function couplingAxis(position, labelled) {
  return {
    type: 'value', position: position,
    min: couplingRange[0], max: couplingRange[1], interval: 0.1,
    axisLine: frameLine(), axisTick: innerTick(), splitLine: { show: false },
    axisLabel: {
      show: labelled, margin: 15, color: INK, fontFamily: SERIF, fontSize: 25,
      showMaxLabel: false,
      formatter: v => {
        const t = couplingTicks.find(c => Math.abs(c - v) < 1e-9);
        if (t === undefined) return '';
        return t === 0 ? '0' : t.toFixed(1);
      }
    }
  };
}

const xMain = massAxis('bottom', true);
xMain.name = 'M';
xMain.nameLocation = 'middle';
xMain.nameGap = 62;
xMain.nameTextStyle = { fontFamily: SERIF, fontSize: 25, fontStyle: 'italic', color: INK, padding: [0, 0, 0, 12] };

const option = {
  animation: false,
  backgroundColor: '#fff',
  title: {
    text: 'Higgs-top quark coupling',
    left: 532, top: 4, textAlign: 'center',
    textStyle: { fontFamily: SERIF, fontSize: 30, fontWeight: 'normal', color: INK }
  },
  grid: {
    left: 118, top: 69, width: 828, bottom: 89,
    outerBoundsMode: 'none', containLabel: false,
    show: true, borderColor: INK, borderWidth: 1.5
  },
  xAxis: [xMain, massAxis('top', false)],
  yAxis: [couplingAxis('left', true), couplingAxis('right', false)],
  series: [
    {
      name: seriesNames[0], type: 'scatter', xAxisIndex: 0, yAxisIndex: 0,
      symbol: 'rect', symbolSize: [2.4, 2],
      itemStyle: { color: seriesColors[0], opacity: 0.95 },
      data: nonSmPoints, silent: true, z: 2
    },
    {
      name: seriesNames[1], type: 'line', xAxisIndex: 0, yAxisIndex: 0,
      showSymbol: false, symbol: 'none',
      lineStyle: { color: seriesColors[1], width: 1.3 },
      data: [[massRange[0], smCoupling], [massRange[1], smCoupling]], silent: true, z: 3
    }
  ],
  graphic: [
    // vertical axis title  g_{t t̄ h}
    {
      type: 'group', x: 22, y: 342, rotation: Math.PI / 2,
      children: [
        { type: 'text', x: 0, y: 0, style: { text: 'g', fontFamily: SERIF, fontSize: 26, fontStyle: 'italic', fill: INK, align: 'left', verticalAlign: 'middle' } },
        { type: 'text', x: 13, y: 11, style: { text: 't\u2009t\u0304\u2009h', fontFamily: SERIF, fontSize: 22, fontStyle: 'italic', fill: INK, align: 'left', verticalAlign: 'middle' } }
      ]
    },
    // key: right-aligned labels with samples to their right
    { type: 'text', x: 806, y: 97, style: { text: seriesNames[0], fontFamily: SERIF, fontSize: 28.5, fill: INK, align: 'right', verticalAlign: 'middle' } },
    { type: 'rect', shape: { x: 865, y: 92.5, width: 2, height: 1.5 }, style: { fill: seriesColors[0] } },
    { type: 'text', x: 806, y: 120, style: { text: seriesNames[1], fontFamily: SERIF, fontSize: 28.5, fill: INK, align: 'right', verticalAlign: 'middle' } },
    { type: 'line', shape: { x1: 824, y1: 124, x2: 907, y2: 124 }, style: { stroke: seriesColors[1], lineWidth: 1.3 } }
  ]
};

chart.setOption(option);
</script>
</body>
</html>
